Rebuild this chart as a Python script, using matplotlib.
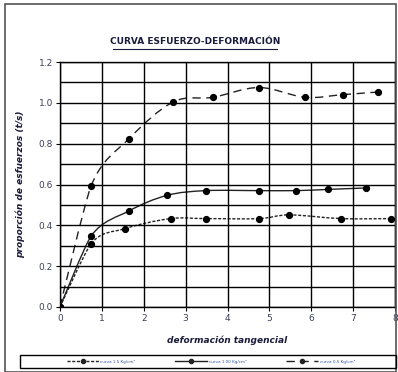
import numpy as np
import matplotlib
matplotlib.use("Agg")
import matplotlib.pyplot as plt
from matplotlib.path import Path
from matplotlib.patches import PathPatch, Rectangle
from matplotlib.lines import Line2D

# datos
x_15 = [0, 0.74, 1.55, 2.64, 3.49, 4.75, 5.48, 6.72, 7.9]
y_15 = [0, 0.31, 0.384, 0.433, 0.433, 0.433, 0.451, 0.433, 0.433]
x_10 = [0, 0.74, 1.65, 2.56, 3.49, 4.75, 5.63, 6.41, 7.3]
y_10 = [0, 0.347, 0.471, 0.547, 0.57, 0.57, 0.57, 0.576, 0.583]
x_05 = [0, 0.74, 1.65, 2.71, 3.65, 4.75, 5.85, 6.75, 7.6]
y_05 = [0, 0.592, 0.825, 1.005, 1.027, 1.075, 1.027, 1.04, 1.053]
labels = ["curva 1.5 Kg/cm²", "curva 1.00 Kg/cm²", "curva 0.5 Kg/cm²"]
xticks = range(0, 9)
yticks = [0.0, 0.2, 0.4, 0.6, 0.8, 1.0, 1.2]


def smooth_path(x, y):
    # linea suavizada tipo excel (bezier cubica)
    p = np.column_stack([x, y]).astype(float)
    n = len(p)
    verts = [p[0]]
    codes = [Path.MOVETO]
    for i in range(n - 1):
        p0 = p[i - 1] if i > 0 else p[i]
        p3 = p[i + 2] if i + 2 < n else p[i + 1]
        t1 = 6 if i > 0 else 1e9   # primer tramo casi recto
        t2 = 6 if i > 0 else 12
        c1 = p[i] + (p[i + 1] - p0) / t1
        c2 = p[i + 1] - (p3 - p[i]) / t2
        verts += [c1, c2, p[i + 1]]
        codes += [Path.CURVE4] * 3
    return Path(verts, codes)


fig = plt.figure(figsize=(3.98, 3.72), dpi=100)
ax = fig.add_axes([60 / 398, 65 / 372, 335 / 398, 245 / 372])

series = [(x_15, y_15, (0, (2.2, 1.2))), (x_10, y_10, "-"), (x_05, y_05, (0, (6, 4)))]
handles = []
for (xs, ys, ls), lab in zip(series, labels):
    ax.add_patch(PathPatch(smooth_path(xs, ys), fill=False, lw=1.0,
                           ls=ls, edgecolor="#222222"))
    ax.plot(xs, ys, "o", color="black", ms=4.2)
    handles.append(Line2D([], [], color="#222222", ls=ls, lw=1.0,
                          marker="o", ms=3, label=lab))

ax.set_xlim(0, 8)
ax.set_ylim(0, 1.2)
ax.set_xticks(xticks)
ax.set_yticks(yticks)
ax.set_yticks(np.arange(0, 1.21, 0.1), minor=True)
ax.yaxis.set_major_formatter(plt.FormatStrFormatter("%.1f"))
ax.grid(True, which="both", color="black", lw=1.0)
ax.tick_params(which="both", length=3, width=0.8, labelsize=6.5,
               labelcolor="#3a3f55", pad=2)
ax.tick_params(which="minor", length=0)
for s in ax.spines.values():
    s.set_linewidth(1.0)

ax.set_xlabel("deformación tangencial", fontsize=6.5, style="italic",
              weight="bold", color="#1a1a3a", labelpad=9)
ax.set_ylabel("proporción de esfuerzos (t/s)", fontsize=6.5, style="italic",
              weight="bold", color="#1a1a3a", labelpad=10)

fig.text(195 / 398, 1 - 42 / 372, "CURVA ESFUERZO-DEFORMACIÓN", ha="center",
         va="center", fontsize=6.5, weight="bold", color="#1a1a3a")
fig.add_artist(Line2D([113 / 398, 277 / 398], [1 - 49 / 372, 1 - 49 / 372],
                      color="#1a1a3a", lw=0.8))

# marco exterior
fig.add_artist(Rectangle((5 / 398, 0.001), 391 / 398, 368 / 372, fill=False,
                         edgecolor="#555555", lw=1.2))

# caja de leyenda
fig.add_artist(Rectangle((20 / 398, 4 / 372), 376 / 398, 13 / 372, fill=False,
                         edgecolor="black", lw=1.0))
leg = fig.legend(handles=handles, ncol=3, loc="center",
                 bbox_to_anchor=(211 / 398, 10.5 / 372), fontsize=3,
                 frameon=False, handlelength=7.7, handletextpad=0.4,
                 columnspacing=9.5, labelcolor="#3355aa")

fig.savefig("out.png", dpi=100)
